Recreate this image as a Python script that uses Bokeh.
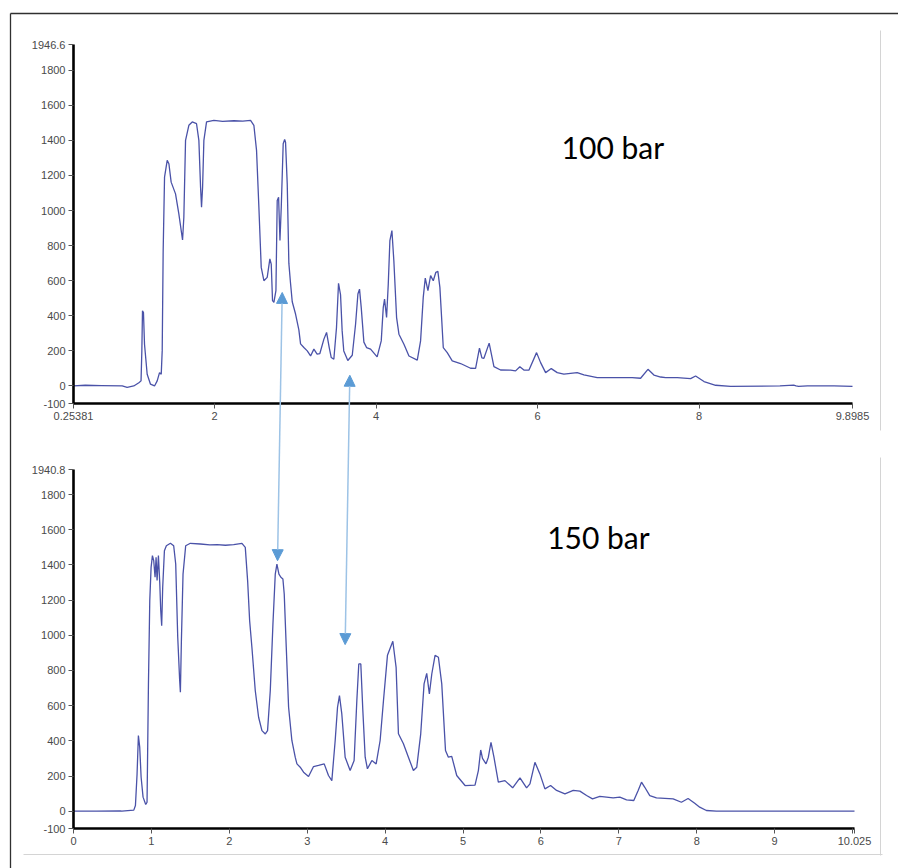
from bokeh.plotting import figure
from bokeh.models import Range1d, LinearAxis, FixedTicker, Arrow, NormalHead, Label
from bokeh.embed import file_html
from bokeh.resources import INLINE

# ---------------- data ----------------
top_x = [0.25381, 0.40, 0.60, 0.857, 0.918, 1.0, 1.063, 1.09, 1.100, 1.108, 1.12, 1.133, 1.166, 1.207,
         1.257, 1.29, 1.319, 1.34, 1.352, 1.364, 1.381, 1.414, 1.435, 1.463, 1.517, 1.558, 1.604, 1.62,
         1.641, 1.682, 1.724, 1.777, 1.806, 1.827, 1.839, 1.852, 1.868, 1.901, 1.992, 2.1, 2.24, 2.35,
         2.446, 2.487, 2.52, 2.549, 2.578, 2.611, 2.652, 2.685, 2.702, 2.718, 2.735, 2.76, 2.776, 2.793,
         2.81, 2.826, 2.85, 2.868, 2.879, 2.9, 2.92, 2.94, 2.962, 3.003, 3.044, 3.065, 3.106, 3.148,
         3.189, 3.23, 3.27, 3.304, 3.354, 3.387, 3.42, 3.445, 3.477, 3.51, 3.535, 3.56, 3.58, 3.6, 3.65,
         3.705, 3.746, 3.775, 3.795, 3.816, 3.849, 3.882, 3.932, 4.013, 4.064, 4.089, 4.105, 4.13, 4.151,
         4.171, 4.196, 4.22, 4.254, 4.283, 4.345, 4.407, 4.51, 4.551, 4.584, 4.609, 4.642, 4.675, 4.708,
         4.74, 4.765, 4.79, 4.81, 4.832, 4.881, 4.943, 5.046, 5.17, 5.232, 5.28, 5.31, 5.335, 5.40, 5.459,
         5.541, 5.665, 5.727, 5.78, 5.83, 5.892, 5.987, 6.037, 6.099, 6.169, 6.243, 6.325, 6.49, 6.573,
         6.738, 6.986, 7.17, 7.275, 7.366, 7.44, 7.523, 7.585, 7.729, 7.894, 7.956, 8.06, 8.204, 8.39,
         9.0, 9.17, 9.2, 9.23, 9.34, 9.67, 9.8985]
top_y = [0, 4, 2, 0, -8, 0, 18, 29, 200, 429, 419, 238, 67, 10,
         0, 29, 76, 67, 200, 771, 1190, 1286, 1267, 1162, 1095, 981, 832, 962,
         1400, 1486, 1505, 1495, 1400, 1133, 1019, 1133, 1400, 1505, 1514, 1508, 1512, 1510,
         1514, 1486, 1343, 1019, 676, 600, 619, 724, 695, 486, 476, 543, 1057, 1076,
         829, 1019, 1381, 1405, 1390, 1152, 700, 590, 480, 410, 320, 240, 219, 200,
         171, 210, 181, 185, 267, 305, 219, 162, 152, 333, 585, 520, 314, 200, 145,
         175, 352, 524, 552, 448, 250, 219, 210, 166, 257, 448, 495, 390, 581,
         829, 886, 714, 390, 295, 238, 171, 147, 257, 505, 615, 543, 629, 600,
         648, 653, 562, 400, 219, 190, 143, 128, 101, 100, 215, 160, 158, 244, 110,
         91, 90, 86, 110, 91, 90, 190, 133, 76, 99, 76, 67, 76, 63,
         48, 48, 48, 44, 95, 62, 51, 48, 48, 42, 57, 25, 4, -2,
         0, 5, 0, -2, 0, 0, -2]

bot_x = [0.0, 0.3, 0.6, 0.62, 0.774, 0.795, 0.816, 0.833, 0.85, 0.868, 0.893, 0.927, 0.944, 0.962,
         0.979, 0.996, 1.013, 1.03, 1.047, 1.06, 1.073, 1.09, 1.107, 1.12, 1.132, 1.145, 1.167, 1.192,
         1.244, 1.286, 1.312, 1.338, 1.363, 1.372, 1.385, 1.406, 1.44, 1.5, 1.628, 1.75, 1.842, 1.95,
         2.056, 2.162, 2.205, 2.235, 2.261, 2.29, 2.333, 2.376, 2.419, 2.462, 2.491, 2.526, 2.56, 2.59,
         2.611, 2.637, 2.662, 2.688, 2.705, 2.731, 2.761, 2.803, 2.846, 2.868, 2.91, 2.953, 3.017, 3.081,
         3.145, 3.218, 3.273, 3.316, 3.359, 3.389, 3.414, 3.444, 3.487, 3.551, 3.602, 3.637, 3.662, 3.688,
         3.714, 3.744, 3.773, 3.83, 3.885, 3.936, 3.979, 4.03, 4.099, 4.141, 4.171, 4.235, 4.299, 4.363,
         4.406, 4.457, 4.5, 4.534, 4.568, 4.599, 4.641, 4.684, 4.727, 4.775, 4.812, 4.855, 4.919, 5.026,
         5.154, 5.197, 5.227, 5.25, 5.295, 5.325, 5.359, 5.397, 5.453, 5.538, 5.637, 5.731, 5.816, 5.859,
         5.923, 5.987, 6.051, 6.124, 6.201, 6.308, 6.415, 6.5, 6.586, 6.662, 6.756, 6.927, 7.013, 7.099,
         7.192, 7.248, 7.291, 7.333, 7.397, 7.483, 7.697, 7.803, 7.889, 7.974, 8.038, 8.124, 8.252, 10.025]
bot_y = [0, 0, 2, 0, 6, 32, 212, 430, 364, 193, 80, 38, 51, 723,
         1197, 1386, 1453, 1424, 1330, 1443, 1311, 1453, 1301, 1140, 1055, 1273, 1481, 1509,
         1523, 1509, 1405, 989, 742, 676, 970, 1348, 1509, 1523, 1519, 1514, 1515, 1512,
         1515, 1523, 1500, 1311, 1083, 932, 686, 534, 458, 439, 458, 686, 1064, 1348,
         1405, 1348, 1330, 1320, 1235, 932, 591, 402, 307, 269, 250, 222, 197, 254,
         260, 269, 203, 174, 402, 591, 657, 553, 307, 231, 288, 629, 837, 837,
         572, 307, 241, 288, 269, 402, 629, 886, 966, 818, 440, 383, 307, 231,
         250, 440, 724, 784, 667, 780, 886, 875, 724, 345, 307, 312, 203, 146,
         148, 231, 348, 300, 269, 307, 392, 307, 165, 174, 133, 190, 133, 155,
         278, 212, 127, 146, 118, 99, 118, 114, 89, 70, 84, 76, 80, 65,
         61, 118, 165, 136, 89, 76, 70, 51, 72, 45, 23, 4, 0, 0]

top_xticks = [0.25381, 2, 4, 6, 8, 9.8985]
top_xlabels = ["0.25381", "2", "4", "6", "8", "9.8985"]
top_yticks = [-100, 0, 200, 400, 600, 800, 1000, 1200, 1400, 1600, 1800, 1946.6]
top_ylabels = ["-100", "0", "200", "400", "600", "800", "1000", "1200", "1400", "1600", "1800", "1946.6"]

bot_xticks = [0, 1, 2, 3, 4, 5, 6, 7, 8, 9, 10, 10.025]
bot_xlabels = ["0", "1", "2", "3", "4", "5", "6", "7", "8", "9", "", "10.025"]
bot_yticks = [-100, 0, 200, 400, 600, 800, 1000, 1200, 1400, 1600, 1800, 1940.8]
bot_ylabels = ["-100", "0", "200", "400", "600", "800", "1000", "1200", "1400", "1600", "1800", "1940.8"]

top_title = "100 bar"
bot_title = "150 bar"
top_title_pos = (6.297, 1360)     # in top chart data
bot_title_pos = (6.08, 1561)      # in bottom chart data

# arrows: one end in the top chart (data), the other in the bottom chart (data)
arrow_top_x = [2.838, 3.675]
arrow_top_y = [533, 61]
arrow_bot_x = [2.619, 3.487]
arrow_bot_y = [1424, 947]

# ---------------- layout ----------------
W, H = 898, 868
TOP_BOX = dict(xv=(0.25381, 9.8985), yv=(-100, 1946.6), px=(73, 852), py=(403, 44))
BOT_BOX = dict(xv=(0.0, 10.025), yv=(-100, 1940.8), px=(73, 854), py=(828.3, 469.3))


def val_at_pixel(v, p, pix):
    k = (v[1] - v[0]) / (p[1] - p[0])
    return v[0] + (pix - p[0]) * k


def x_range_for(box):
    return Range1d(start=val_at_pixel(box["xv"], box["px"], 0), end=val_at_pixel(box["xv"], box["px"], W))


def y_range_for(box):
    return Range1d(start=val_at_pixel(box["yv"], box["py"], H), end=val_at_pixel(box["yv"], box["py"], 0))


def to_pixel(box, x, y):
    px = box["px"][0] + (x - box["xv"][0]) / (box["xv"][1] - box["xv"][0]) * (box["px"][1] - box["px"][0])
    py = box["py"][0] + (y - box["yv"][0]) / (box["yv"][1] - box["yv"][0]) * (box["py"][1] - box["py"][0])
    return px, py


p = figure(width=W, height=H, output_backend="svg", toolbar_location=None,
           x_range=Range1d(0, W), y_range=Range1d(start=H, end=0),
           x_axis_location=None, y_axis_location=None, title=None,
           min_border=0, outline_line_color=None, background_fill_color="white")
p.grid.grid_line_color = None
p.grid.visible = False
p.extra_x_ranges = {"xt": x_range_for(TOP_BOX), "xb": x_range_for(BOT_BOX)}
p.extra_y_ranges = {"yt": y_range_for(TOP_BOX), "yb": y_range_for(BOT_BOX)}

# page decorations (in page pixel coordinates)
p.segment(x0=[10, 10], y0=[13, 13], x1=[10, W], y1=[H, 13], line_color="#303030", line_width=1.3)
p.segment(x0=[880, 880, 23], y0=[30, 457, 854], x1=[880, 880, 882], y1=[430, 855, 854],
          line_color="#d4d4d4", line_width=1)

TRACE = "#4a52a8"
p.line(top_x, top_y, x_range_name="xt", y_range_name="yt", line_color=TRACE, line_width=1.3)
p.line(bot_x, bot_y, x_range_name="xb", y_range_name="yb", line_color=TRACE, line_width=1.3)


def add_axes(xr, yr, box, xticks, xlabels, yticks, ylabels):
    common = dict(x_range_name=xr, y_range_name=yr,
                  axis_line_color="black", axis_line_width=2.6,
                  major_tick_line_color="#555555", major_tick_line_width=1,
                  major_tick_in=0, major_tick_out=5,
                  minor_tick_line_color=None,
                  major_label_text_font="Liberation Sans",
                  major_label_text_font_size="11px",
                  major_label_text_color="#4a4a4a",
                  major_label_standoff=3)
    yax = LinearAxis(fixed_location=box["xv"][0], bounds=box["yv"],
                     ticker=FixedTicker(ticks=yticks),
                     major_label_overrides=dict(zip(yticks, ylabels)), **common)
    p.add_layout(yax, "left")
    xax = LinearAxis(fixed_location=box["yv"][0], bounds=box["xv"],
                     ticker=FixedTicker(ticks=xticks),
                     major_label_overrides=dict(zip(xticks, xlabels)), **common)
    p.add_layout(xax, "below")


add_axes("xt", "yt", TOP_BOX, top_xticks, top_xlabels, top_yticks, top_ylabels)
add_axes("xb", "yb", BOT_BOX, bot_xticks, bot_xlabels, bot_yticks, bot_ylabels)

p.add_layout(Label(x=top_title_pos[0], y=top_title_pos[1], x_range_name="xt", y_range_name="yt",
                   text=top_title, text_font="Lato", text_font_size="30px", text_color="black",
                   text_baseline="alphabetic", text_align="left"))
p.add_layout(Label(x=bot_title_pos[0], y=bot_title_pos[1], x_range_name="xb", y_range_name="yb",
                   text=bot_title, text_font="Lato", text_font_size="30px", text_color="black",
                   text_baseline="alphabetic", text_align="left"))

HEAD = "#5b9bd5"
for xt, yt, xb, yb in zip(arrow_top_x, arrow_top_y, arrow_bot_x, arrow_bot_y):
    x0, y0 = to_pixel(TOP_BOX, xt, yt)
    x1, y1 = to_pixel(BOT_BOX, xb, yb)
    p.add_layout(Arrow(x_start=x0, y_start=y0, x_end=x1, y_end=y1,
                       line_color="#9dc3e6", line_width=1.5,
                       start=NormalHead(size=11, fill_color=HEAD, line_color=HEAD, line_width=1),
                       end=NormalHead(size=11, fill_color=HEAD, line_color=HEAD, line_width=1)))

open("out.html", "w").write(file_html(p, INLINE))
